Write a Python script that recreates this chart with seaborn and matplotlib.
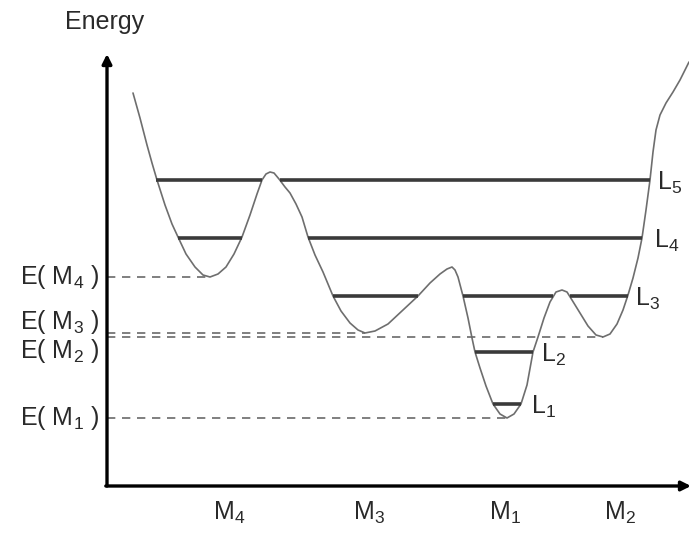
import matplotlib
matplotlib.use("Agg")
import matplotlib.pyplot as plt
import seaborn as sns
import pandas as pd

# ---------------- data (x position, energy) ----------------
curve_x = [26, 33, 40, 45, 50, 58, 65, 71, 79, 88, 96, 103, 111, 119, 127, 135, 143, 150,
           155, 159, 163, 167, 172, 178, 183, 189, 195, 201, 208, 216, 226, 234, 243, 251,
           258, 268, 281, 296, 311, 323, 333, 340, 345, 348, 351, 356, 361, 365, 368, 373,
           379, 386, 393, 400, 407, 414, 420, 426, 431, 437, 443, 449, 455, 460, 465, 473,
           481, 489, 496, 503, 510, 516, 521, 526, 531, 535, 539, 543, 546, 549, 553, 559,
           566, 573, 582]
curve_E = [393, 368, 341, 323, 306, 281, 262, 249, 232, 219, 211, 209, 212, 219, 232, 249,
           271, 292, 306, 312, 314, 313, 307, 299, 293, 282, 269, 249, 231, 214, 190, 175,
           163, 156, 153, 155, 162, 176, 190, 203, 212, 217, 219, 216, 209, 190, 168, 148,
           134, 118, 100, 82, 72, 68, 72, 82, 101, 134, 149, 168, 184, 194, 196, 194, 186,
           173, 160, 151, 149, 152, 162, 176, 191, 208, 228, 248, 276, 306, 334, 356, 371,
           383, 394, 406, 424]

# energy levels: each level is a set of horizontal segments
level_names = ["L$_1$", "L$_2$", "L$_3$", "L$_4$", "L$_5$"]
level_E = [82, 134, 190, 248, 306]
level_x0 = [[386], [368], [226, 356, 463], [71, 201], [49, 173]]
level_x1 = [[414], [426], [311, 446, 521], [135, 535], [155, 543]]
level_label_x = [424, 434, 528, 547, 550]

# minima
minima_names = ["M$_4$", "M$_3$", "M$_1$", "M$_2$"]
minima_x = [103, 258, 400, 496]
minima_E = [209, 153, 68, 149]
minima_label_x = [122, 262, 398, 513]
minima_label_dy = [0, 11, 0, -14]

# ---------------- figure ----------------
sns.set_theme(style="white")
plt.rcParams["font.family"] = ["Liberation Sans", "DejaVu Sans"]
plt.rcParams["mathtext.default"] = "regular"

W, H = 689, 535
fig = plt.figure(figsize=(W / 100, H / 100), dpi=100)
ax = fig.add_axes([107 / W, 49 / H, 582 / W, 446 / H])

df = pd.DataFrame({"x": curve_x, "E": curve_E})
sns.lineplot(data=df, x="x", y="E", sort=False, estimator=None, ax=ax,
             color="#6e6e6e", lw=1.2)
ax.set_xlim(0, 582)
ax.set_ylim(0, 446)
ax.set_xlabel("")
ax.set_ylabel("")
for s in ax.spines.values():
    s.set_visible(False)

# dashed lines from the axis to each minimum
for mx, me in zip(minima_x, minima_E):
    ax.plot([0, mx], [me, me], color="#6a6a6a", lw=1.2, ls=(0, (5, 4)))

# energy levels
for name, e, xs0, xs1, lx in zip(level_names, level_E, level_x0, level_x1, level_label_x):
    for a, b in zip(xs0, xs1):
        ax.plot([a, b], [e, e], color="#3a3a3a", lw=2.6, solid_capstyle="butt")
    ax.text(lx, e - 3, name, fontsize=18, color="#2a2a2a", ha="left", va="center")

# axes with arrows
ax.annotate("", xy=(0, 432), xytext=(0, 0),
            arrowprops=dict(arrowstyle="-|>", lw=2.4, color="black",
                            mutation_scale=14, shrinkA=0, shrinkB=0),
            annotation_clip=False)
ax.annotate("", xy=(584, 0), xytext=(-1.2, 0),
            arrowprops=dict(arrowstyle="-|>", lw=2.4, color="black",
                            mutation_scale=14, shrinkA=0, shrinkB=0),
            annotation_clip=False)

# axis tick labels
ax.set_xticks(minima_label_x)
ax.set_xticklabels(minima_names, fontsize=18, color="#2a2a2a")
ax.tick_params(axis="x", length=0, pad=10)
ax.set_yticks([])
for nm, me, dy in zip(minima_names, minima_E, minima_label_dy):
    ax.text(-8, me + dy, "E( " + nm + " )", fontsize=18, color="#2a2a2a",
            ha="right", va="center", clip_on=False)

fig.text(105 / W, 1 - 22 / H, "Energy", fontsize=18, color="#2a2a2a",
         ha="center", va="center")

fig.savefig("out.png", dpi=100)
